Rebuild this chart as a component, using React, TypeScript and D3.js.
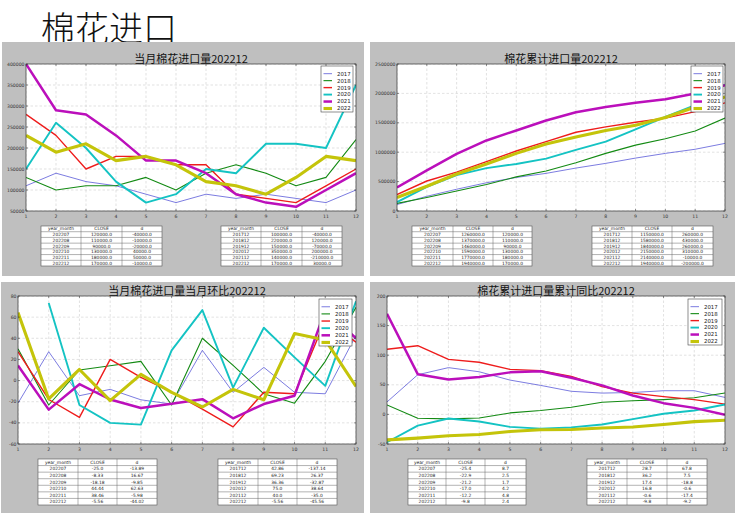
import React from 'react';
import * as d3 from 'd3';

const months = [1, 2, 3, 4, 5, 6, 7, 8, 9, 10, 11, 12];
const years = ['2017', '2018', '2019', '2020', '2021', '2022'];
const lineColors = ['#5b5bd8', '#138a13', '#ee1c1c', '#14c3c3', '#bb0fbb', '#c4c40a'];
const lineWidths = [0.8, 1.1, 1.4, 1.9, 2.5, 3.1];

// 当月棉花进口量 (monthly imports)
const monthlyImports: (number | null)[][] = [
  [110000, 140000, 120000, 110000, 90000, 70000, 90000, 80000, 90000, 80000, 70000, 100000],
  [130000, 100000, 110000, 110000, 130000, 100000, 140000, 160000, 140000, 110000, 130000, 220000],
  [280000, 230000, 150000, 180000, 180000, 160000, 160000, 90000, 80000, 70000, 110000, 150000],
  [150000, 260000, 200000, 120000, 70000, 90000, 150000, 140000, 210000, 210000, 200000, 350000],
  [400000, 290000, 280000, 230000, 170000, 170000, 140000, 90000, 70000, 60000, 100000, 140000],
  [230000, 190000, 210000, 170000, 180000, 160000, 120000, 110000, 90000, 130000, 180000, 170000],
];

// 棉花累计进口量 (cumulative imports)
const cumulativeImports: (number | null)[][] = [
  [110000, 250000, 370000, 480000, 570000, 640000, 730000, 810000, 900000, 980000, 1050000, 1150000],
  [130000, 230000, 340000, 450000, 580000, 680000, 820000, 980000, 1120000, 1230000, 1360000, 1580000],
  [280000, 510000, 660000, 840000, 1020000, 1180000, 1340000, 1430000, 1510000, 1580000, 1690000, 1840000],
  [150000, 410000, 610000, 730000, 800000, 890000, 1040000, 1180000, 1390000, 1600000, 1800000, 2150000],
  [400000, 690000, 970000, 1200000, 1370000, 1540000, 1680000, 1770000, 1840000, 1900000, 2000000, 2140000],
  [230000, 420000, 630000, 800000, 980000, 1140000, 1260000, 1370000, 1460000, 1590000, 1770000, 1940000],
];

// 当月环比 (month-on-month %)
const monthOnMonth: (number | null)[][] = [
  [-21.4, 27.3, -14.3, -8.3, -18.2, -22.2, 28.6, -11.1, 12.5, -11.1, -12.5, 42.86],
  [30, -23.1, 10, 14, 18.2, -23.1, 40, 14.3, -12.5, -21.4, 18.2, 69.23],
  [27.3, -17.9, -34.8, 20, 3, -11, -27, -43.8, -11.1, -12.5, 57.1, 36.36],
  [null, 73.3, -23.1, -40, -41.7, 28.6, 66.7, -6.7, 50, 22, -5, 75],
  [14.3, -27.5, -3.4, -17.9, -26, -22, -17.6, -35.7, -22.2, -14.3, 66.7, 40],
  [64.3, -17.4, 10.5, -19, 5.9, -11.1, -25, -8.33, -18.18, 44.44, 38.46, -5.56],
];

// 累计同比 (cumulative year-on-year %)
const cumulativeYoY: (number | null)[][] = [
  [21, 67, 79, 72, 58, 49, 39, 36, 37, 40, 40, 28.7],
  [16, -6.5, -7.5, -6, 2.5, 6.5, 12, 20.5, 23, 25, 28, 36.2],
  [110, 116, 93, 88, 76, 74, 64, 47, 36, 30, 25, 17.4],
  [-47, -19, -7, -12, -21, -24, -22, -17, -8, 1, 6.5, 16.8],
  [170, 68, 59, 63, 71, 73, 62, 49, 32, 19, 11, -0.6],
  [-43, -40, -36, -34, -29, -26, -25.4, -22.9, -21.2, -17.0, -12.2, -9.8],
];

const tableHeader = ['year_month', 'CLOSE', 'd'];
const recentMonths = ['202207', '202208', '202209', '202210', '202211', '202212'];
const decembers = ['201712', '201812', '201912', '202012', '202112', '202212'];

const tlRecentClose = ['120000.0', '110000.0', '90000.0', '130000.0', '180000.0', '170000.0'];
const tlRecentD = ['-40000.0', '-10000.0', '-20000.0', '40000.0', '50000.0', '-10000.0'];
const tlDecClose = ['100000.0', '220000.0', '150000.0', '350000.0', '140000.0', '170000.0'];
const tlDecD = ['-40000.0', '120000.0', '-70000.0', '200000.0', '-210000.0', '30000.0'];

const trRecentClose = ['1260000.0', '1370000.0', '1460000.0', '1590000.0', '1770000.0', '1940000.0'];
const trRecentD = ['120000.0', '110000.0', '90000.0', '130000.0', '180000.0', '170000.0'];
const trDecClose = ['1150000.0', '1580000.0', '1840000.0', '2150000.0', '2140000.0', '1940000.0'];
const trDecD = ['260000.0', '430000.0', '260000.0', '310000.0', '-10000.0', '-200000.0'];

const blRecentClose = ['-25.0', '-8.33', '-18.18', '44.44', '38.46', '-5.56'];
const blRecentD = ['-13.89', '16.67', '-9.85', '62.63', '-5.98', '-44.02'];
const blDecClose = ['42.86', '69.23', '36.36', '75.0', '40.0', '-5.56'];
const blDecD = ['-137.14', '26.37', '-32.87', '38.64', '-35.0', '-45.56'];

const brRecentClose = ['-25.4', '-22.9', '-21.2', '-17.0', '-12.2', '-9.8'];
const brRecentD = ['8.7', '2.5', '1.7', '4.2', '4.8', '2.4'];
const brDecClose = ['28.7', '36.2', '17.4', '16.8', '-0.6', '-9.8'];
const brDecD = ['67.8', '7.5', '-18.8', '-0.6', '-17.4', '-9.2'];

const tlTicks = [50000, 100000, 150000, 200000, 250000, 300000, 350000, 400000];
const trTicks = [0, 500000, 1000000, 1500000, 2000000, 2500000];
const blTicks = [-60, -40, -20, 0, 20, 40, 60, 80];
const brTicks = [-50, 0, 50, 100, 150, 200];

type TableCfg = { cols: number[]; y0: number; y1: number; c1: string[]; c2: string[]; c3: string[] };
type PanelCfg = {
  id: string;
  panel: [number, number, number, number];
  plot: [number, number, number, number];
  title: string;
  domain: [number, number];
  ticks: number[];
  data: (number | null)[][];
  legend: [number, number, number, number];
  tables: TableCfg[];
};

const TICK_FONT = 'DejaVu Sans, sans-serif';
const CJK_FONT = '"Noto Sans CJK SC", sans-serif';

function Table({ t }: { t: TableCfg }) {
  const rows = 7;
  const rh = (t.y1 - t.y0) / rows;
  const x0 = t.cols[0];
  const x1 = t.cols[3];
  const cells: string[][] = [tableHeader];
  for (let i = 0; i < 6; i++) cells.push([t.c1[i], t.c2[i], t.c3[i]]);
  return (
    <g>
      <rect x={x0} y={t.y0} width={x1 - x0} height={t.y1 - t.y0} fill="#fff" stroke="#555" strokeWidth={0.6} />
      {d3.range(1, rows).map((r) => (
        <line key={'r' + r} x1={x0} x2={x1} y1={t.y0 + r * rh} y2={t.y0 + r * rh} stroke="#666" strokeWidth={0.5} />
      ))}
      {[1, 2].map((c) => (
        <line key={'c' + c} x1={t.cols[c]} x2={t.cols[c]} y1={t.y0} y2={t.y1} stroke="#666" strokeWidth={0.5} />
      ))}
      {cells.map((row, r) =>
        row.map((txt, c) => (
          <text
            key={r + '-' + c}
            x={(t.cols[c] + t.cols[c + 1]) / 2}
            y={t.y0 + (r + 0.5) * rh}
            dy="0.35em"
            textAnchor="middle"
            fontSize={4.4}
            fontFamily={TICK_FONT}
            fill="#222"
          >
            {txt}
          </text>
        ))
      )}
    </g>
  );
}

function Panel({ cfg }: { cfg: PanelCfg }) {
  const [px0, py0, px1, py1] = cfg.panel;
  const [x0, y0, x1, y1] = cfg.plot;
  const xs = d3.scaleLinear().domain([1, 12]).range([x0, x1]);
  const ys = d3.scaleLinear().domain(cfg.domain).range([y1, y0]);
  const line = d3
    .line<number | null>()
    .defined((d) => d != null)
    .x((_, i) => xs(months[i]))
    .y((d) => ys(d as number));
  const [lx0, ly0, lx1, ly1] = cfg.legend;
  const step = (ly1 - ly0 - 4.2) / 6;
  return (
    <g>
      <rect x={px0} y={py0} width={px1 - px0} height={py1 - py0} fill="#bfbfbf" />
      <defs>
        <clipPath id={'clip-' + cfg.id}>
          <rect x={x0} y={y0} width={x1 - x0} height={y1 - y0} />
        </clipPath>
      </defs>
      <rect x={x0} y={y0} width={x1 - x0} height={y1 - y0} fill="#fff" />
      {months.map((m) => (
        <line key={'gx' + m} x1={xs(m)} x2={xs(m)} y1={y0} y2={y1} stroke="#cfcfcf" strokeWidth={0.6} strokeDasharray="2.5,2" />
      ))}
      {cfg.ticks.map((t) => (
        <line key={'gy' + t} x1={x0} x2={x1} y1={ys(t)} y2={ys(t)} stroke="#cfcfcf" strokeWidth={0.6} strokeDasharray="2.5,2" />
      ))}
      <g clipPath={`url(#clip-${cfg.id})`}>
        {cfg.data.map((series, i) => (
          <path
            key={'s' + i}
            d={line(series) || ''}
            fill="none"
            stroke={lineColors[i]}
            strokeWidth={lineWidths[i]}
            strokeLinejoin="round"
          />
        ))}
      </g>
      <rect x={x0} y={y0} width={x1 - x0} height={y1 - y0} fill="none" stroke="#333" strokeWidth={0.7} />
      {months.map((m) => (
        <g key={'tx' + m}>
          <line x1={xs(m)} x2={xs(m)} y1={y1} y2={y1 - 2} stroke="#333" strokeWidth={0.5} />
          <line x1={xs(m)} x2={xs(m)} y1={y0} y2={y0 + 2} stroke="#333" strokeWidth={0.5} />
          <text x={xs(m)} y={y1 + 6.5} textAnchor="middle" fontSize={4.6} fontFamily={TICK_FONT} fill="#333">
            {m}
          </text>
        </g>
      ))}
      {cfg.ticks.map((t) => (
        <g key={'ty' + t}>
          <line x1={x0} x2={x0 + 2} y1={ys(t)} y2={ys(t)} stroke="#333" strokeWidth={0.5} />
          <line x1={x1} x2={x1 - 2} y1={ys(t)} y2={ys(t)} stroke="#333" strokeWidth={0.5} />
          <text x={x0 - 1.5} y={ys(t)} dy="0.35em" textAnchor="end" fontSize={4.6} fontFamily={TICK_FONT} fill="#333">
            {t}
          </text>
        </g>
      ))}
      <text x={(x0 + x1) / 2} y={y0 - 1.2} textAnchor="middle" fontSize={11} fontFamily={CJK_FONT} fill="#111">
        {cfg.title}
      </text>
      <rect x={lx0} y={ly0} width={lx1 - lx0} height={ly1 - ly0} fill="#fff" stroke="#444" strokeWidth={0.6} />
      {years.map((yr, i) => {
        const cy = ly0 + 4.2 + step * (i + 0.5);
        return (
          <g key={'lg' + yr}>
            <line x1={lx0 + 2.5} x2={lx0 + 11} y1={cy} y2={cy} stroke={lineColors[i]} strokeWidth={lineWidths[i]} />
            <text x={lx0 + 16} y={cy} dy="0.35em" fontSize={5.4} fontFamily={TICK_FONT} fill="#222">
              {yr}
            </text>
          </g>
        );
      })}
      {cfg.tables.map((t, i) => (
        <Table key={'tb' + i} t={t} />
      ))}
    </g>
  );
}

const panels: PanelCfg[] = [
  {
    id: 'tl',
    panel: [2, 42, 364, 276],
    plot: [26, 64, 356, 211],
    title: '当月棉花进口量202212',
    domain: [50000, 400000],
    ticks: tlTicks,
    data: monthlyImports,
    legend: [321, 66, 353, 112],
    tables: [
      { cols: [41, 81, 122, 162], y0: 226, y1: 266, c1: recentMonths, c2: tlRecentClose, c3: tlRecentD },
      { cols: [221, 261, 302, 342], y0: 226, y1: 266, c1: decembers, c2: tlDecClose, c3: tlDecD },
    ],
  },
  {
    id: 'tr',
    panel: [370, 42, 735, 276],
    plot: [397, 64, 725, 211],
    title: '棉花累计进口量202212',
    domain: [0, 2500000],
    ticks: trTicks,
    data: cumulativeImports,
    legend: [691, 66, 723, 112],
    tables: [
      { cols: [412, 453, 493, 532], y0: 226, y1: 266, c1: recentMonths, c2: trRecentClose, c3: trRecentD },
      { cols: [592, 632, 672, 713], y0: 226, y1: 266, c1: decembers, c2: trDecClose, c3: trDecD },
    ],
  },
  {
    id: 'bl',
    panel: [1, 282, 364, 513],
    plot: [18, 296, 356, 444],
    title: '当月棉花进口量当月环比202212',
    domain: [-60, 80],
    ticks: blTicks,
    data: monthOnMonth,
    legend: [319, 299, 352, 346],
    tables: [
      { cols: [38, 78, 117, 157], y0: 459, y1: 505, c1: recentMonths, c2: blRecentClose, c3: blRecentD },
      { cols: [218, 258, 297, 337], y0: 459, y1: 505, c1: decembers, c2: blDecClose, c3: blDecD },
    ],
  },
  {
    id: 'br',
    panel: [370, 282, 735, 513],
    plot: [387, 296, 725, 444],
    title: '棉花累计进口量累计同比202212',
    domain: [-50, 200],
    ticks: brTicks,
    data: cumulativeYoY,
    legend: [688, 299, 722, 345],
    tables: [
      { cols: [408, 446, 485, 526], y0: 459, y1: 505, c1: recentMonths, c2: brRecentClose, c3: brRecentD },
      { cols: [587, 627, 667, 707], y0: 459, y1: 505, c1: decembers, c2: brDecClose, c3: brDecD },
    ],
  },
];

export default function App() {
  return (
    <svg
      width={740}
      height={513}
      viewBox="0 0 740 513"
      style={{ position: 'absolute', left: 0, top: 0, background: '#fff' }}
    >
      <rect x={0} y={0} width={740} height={513} fill="#fff" />
      <text x={41} y={41} fontSize={34} fontFamily={CJK_FONT} fontWeight={300} fill="#111">
        棉花进口
      </text>
      {panels.map((p) => (
        <Panel key={p.id} cfg={p} />
      ))}
    </svg>
  );
}
